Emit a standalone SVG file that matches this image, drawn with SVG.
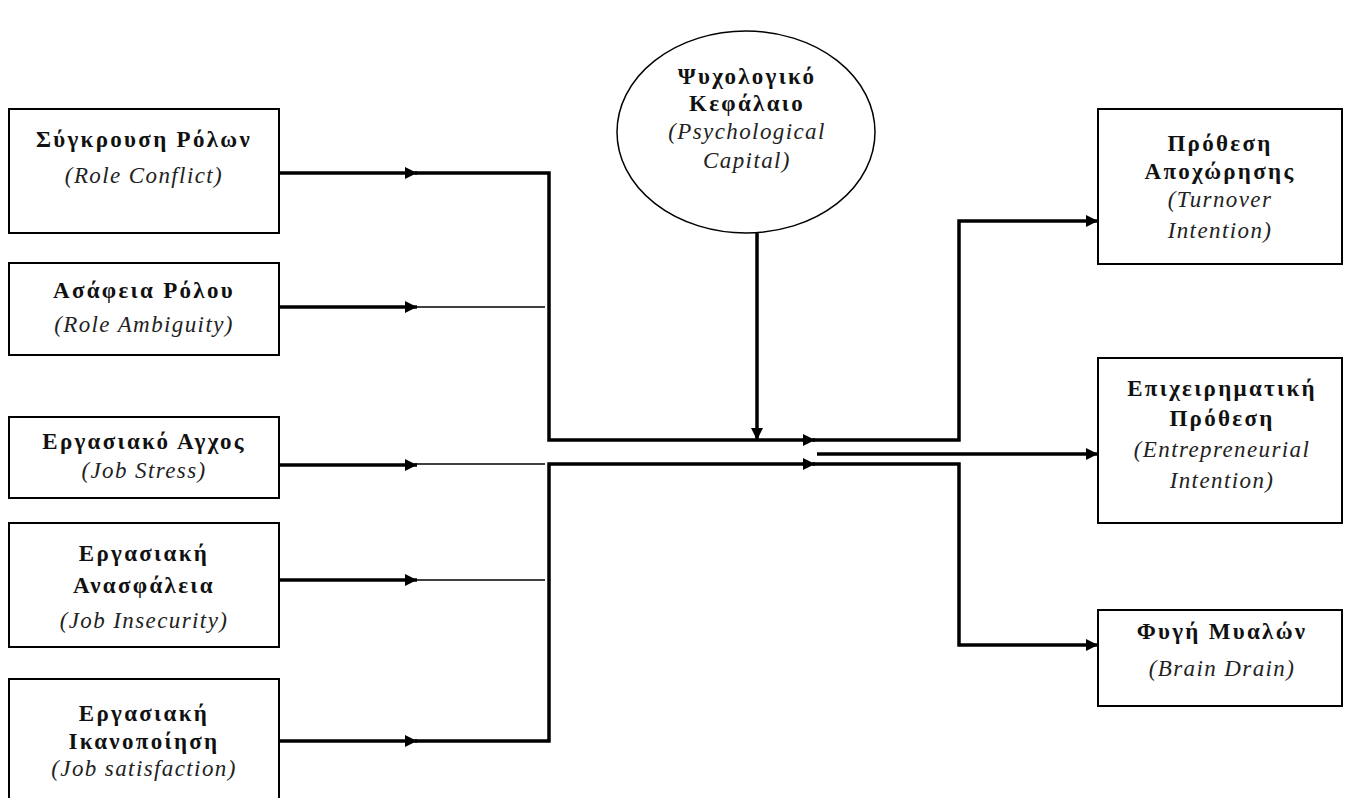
<svg xmlns="http://www.w3.org/2000/svg" width="1353" height="798" viewBox="0 0 1353 798">
<defs>
<marker id="ah" viewBox="0 0 10 10" refX="10" refY="5" markerWidth="14" markerHeight="12" markerUnits="userSpaceOnUse" orient="auto">
<path d="M0,0 L10,5 L0,10 z" fill="#000"/>
</marker>
<style>
.box{fill:#fff;stroke:#000;stroke-width:2}
.t{font-family:"Liberation Serif","Times New Roman",serif;font-size:23px;font-weight:bold;text-anchor:middle;fill:#111;letter-spacing:2.3px}
.s{font-family:"Liberation Serif","Times New Roman",serif;font-size:23px;font-style:italic;text-anchor:middle;fill:#222;letter-spacing:1.4px}
.thick{fill:none;stroke:#000;stroke-width:3.5}
.thin{fill:none;stroke:#000;stroke-width:1.5}
</style>
</defs>
<rect width="1353" height="798" fill="#fff"/>

<g id="connectors">
<line class="thick" x1="279" y1="173" x2="417" y2="173" marker-end="url(#ah)"/>
<line class="thick" x1="279" y1="307" x2="417" y2="307" marker-end="url(#ah)"/>
<line class="thick" x1="279" y1="465" x2="417" y2="465" marker-end="url(#ah)"/>
<line class="thick" x1="279" y1="580" x2="417" y2="580" marker-end="url(#ah)"/>
<line class="thick" x1="279" y1="741" x2="417" y2="741" marker-end="url(#ah)"/>
<polyline class="thick" points="415,173 549,173 549,440 815,440" marker-end="url(#ah)"/>
<line class="thin" x1="415" y1="307" x2="545" y2="307"/>
<line class="thin" x1="415" y1="464" x2="545" y2="464"/>
<line class="thin" x1="415" y1="580" x2="545" y2="580"/>
<polyline class="thick" points="415,741 549,741 549,464 815,464" marker-end="url(#ah)"/>
<line class="thick" x1="757" y1="233" x2="757" y2="440" marker-end="url(#ah)"/>
<polyline class="thick" points="813,440 959,440 959,221 1098,221" marker-end="url(#ah)"/>
<line class="thick" x1="817" y1="454" x2="1098" y2="454" marker-end="url(#ah)"/>
<polyline class="thick" points="813,464 959,464 959,645 1098,645" marker-end="url(#ah)"/>
</g>

<g id="n-role-conflict">
<rect class="box" x="9" y="109" width="270" height="124"/>
<text class="t" x="144" y="147">Σύγκρουση Ρόλων</text>
<text class="s" x="144" y="183">(Role Conflict)</text>
</g>
<g id="n-role-ambiguity">
<rect class="box" x="9" y="263" width="270" height="92"/>
<text class="t" x="144" y="298">Ασάφεια Ρόλου</text>
<text class="s" x="144" y="332">(Role Ambiguity)</text>
</g>
<g id="n-job-stress">
<rect class="box" x="9" y="417" width="270" height="81"/>
<text class="t" x="144" y="449">Εργασιακό Αγχος</text>
<text class="s" x="144" y="478">(Job Stress)</text>
</g>
<g id="n-job-insecurity">
<rect class="box" x="9" y="523" width="270" height="124"/>
<text class="t" x="144" y="561">Εργασιακή</text>
<text class="t" x="144" y="593">Ανασφάλεια</text>
<text class="s" x="144" y="628">(Job Insecurity)</text>
</g>
<g id="n-job-satisfaction">
<rect class="box" x="9" y="679" width="270" height="130"/>
<text class="t" x="144" y="721">Εργασιακή</text>
<text class="t" x="144" y="749">Ικανοποίηση</text>
<text class="s" x="144" y="776">(Job satisfaction)</text>
</g>

<g id="n-psycap">
<ellipse cx="746" cy="132" rx="129" ry="101" fill="#fff" stroke="#000" stroke-width="1.5"/>
<text class="t" x="747" y="84">Ψυχολογικό</text>
<text class="t" x="747" y="111">Κεφάλαιο</text>
<text class="s" x="747" y="139">(Psychological</text>
<text class="s" x="747" y="168">Capital)</text>
</g>

<g id="n-turnover">
<rect class="box" x="1098" y="109" width="244" height="155"/>
<text class="t" x="1220" y="151">Πρόθεση</text>
<text class="t" x="1220" y="179">Αποχώρησης</text>
<text class="s" x="1220" y="207">(Turnover</text>
<text class="s" x="1220" y="238">Intention)</text>
</g>
<g id="n-entrepreneurial">
<rect class="box" x="1098" y="358" width="244" height="165"/>
<text class="t" x="1222" y="396">Επιχειρηματική</text>
<text class="t" x="1222" y="426">Πρόθεση</text>
<text class="s" x="1222" y="457">(Entrepreneurial</text>
<text class="s" x="1222" y="488">Intention)</text>
</g>
<g id="n-brain-drain">
<rect class="box" x="1098" y="610" width="244" height="96"/>
<text class="t" x="1222" y="639">Φυγή Μυαλών</text>
<text class="s" x="1222" y="676">(Brain Drain)</text>
</g>
</svg>
